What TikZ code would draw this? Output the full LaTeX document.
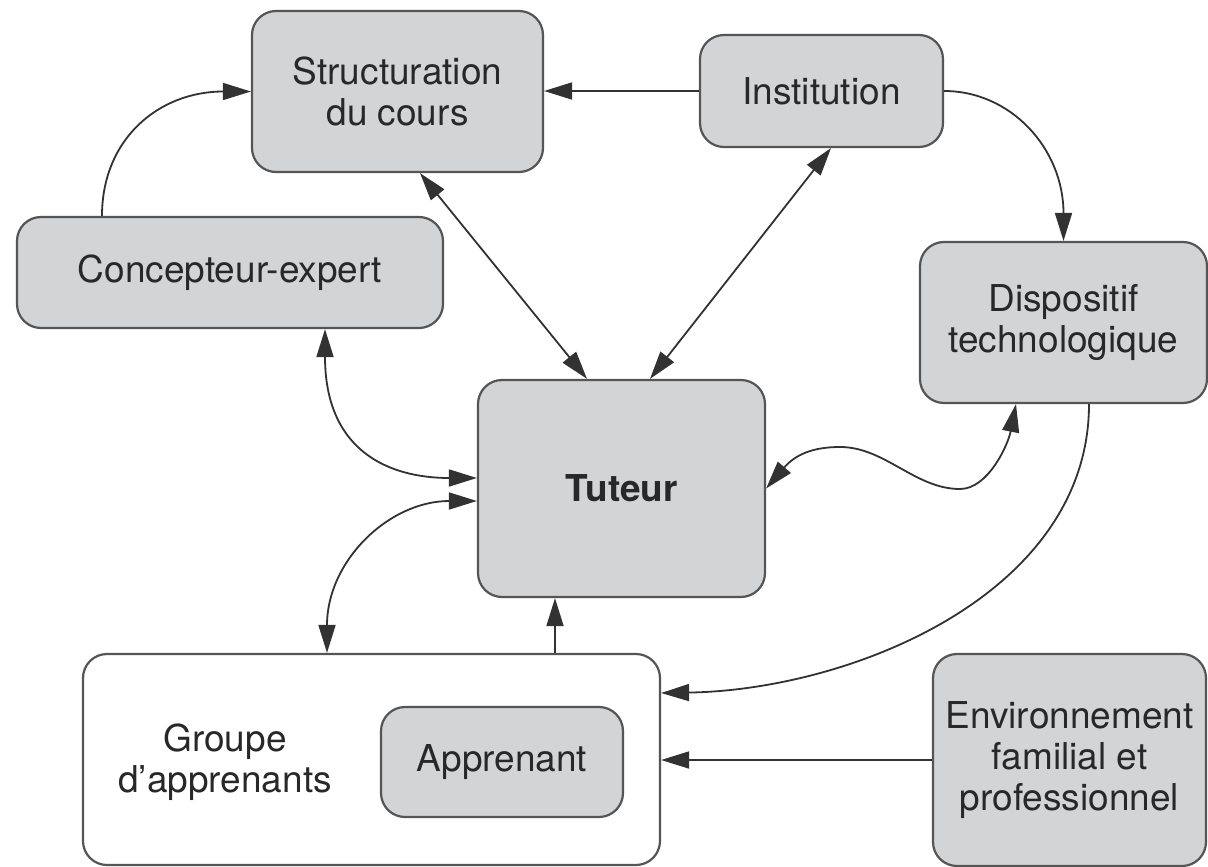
\documentclass[tikz,border=0pt]{standalone}
\usepackage{fontspec}
\setmainfont{TeX Gyre Heros}
\usetikzlibrary{arrows.meta,calc}
\definecolor{boxfill}{RGB}{211,212,214}
\definecolor{boxline}{RGB}{85,85,85}
\definecolor{txtc}{RGB}{40,40,40}
\definecolor{arrline}{RGB}{50,50,50}
\begin{document}
\begin{tikzpicture}[x=1pt,y=-1pt,
  box/.style={draw=boxline, line width=2.2pt, fill=boxfill, rounded corners=24pt,
    align=center, text=txtc, font=\fontsize{37}{41}\selectfont, inner sep=0pt},
  lbl/.style={align=center, text=txtc, font=\fontsize{37}{41}\selectfont, inner sep=0pt},
  arr/.style={draw=arrline, line width=1.8pt, -{Triangle[length=28pt,width=17pt]}},
  darr/.style={draw=arrline, line width=1.8pt, {Triangle[length=28pt,width=17pt]}-{Triangle[length=28pt,width=17pt]}}]
\fill[white] (0,0) rectangle (1208,867);
\useasboundingbox (0,0) rectangle (1208,867);

\node[box, minimum width=291pt, minimum height=161pt] (struct) at (397.5,91.5) {Structuration\\du cours};
\node[box, minimum width=243pt, minimum height=112pt] (inst) at (821.5,91) {Institution};
\node[box, minimum width=426pt, minimum height=111pt] (concept) at (230,272.5) {Concepteur-expert};
\node[box, minimum width=287pt, minimum height=161pt] (disp) at (1063.5,322.5) {Dispositif\\technologique};
\node[box, minimum width=287pt, minimum height=217pt, font=\fontsize{37}{41}\selectfont\bfseries] (tut) at (621.5,488.5) {Tuteur};
\node[box, fill=white, minimum width=577pt, minimum height=211pt] (groupe) at (371.5,759.5) {};
\node[lbl] (gtext) at (225,762) {Groupe\\d’apprenants};
\node[box, minimum width=242pt, minimum height=110pt] (appr) at (502,762) {Apprenant};
\node[box, minimum width=273pt, minimum height=212pt] (env) at (1069.5,760) {Environnement\\familial et\\professionnel};

% Institution -> Structuration
\draw[arr] (inst.west) -- (inst.west -| struct.east);
% Concepteur -> Structuration
\draw[arr] ([xshift=-128pt]concept.north) .. controls +(0,-77) and +(-92,0) .. (struct.west);
% Structuration <-> Tuteur
\draw[darr] ([xshift=22.5pt]struct.south) -- ([xshift=-34.5pt]tut.north);
% Institution <-> Tuteur
\draw[darr] ([xshift=9.5pt]inst.south) -- ([xshift=28.5pt]tut.north);
% Institution -> Dispositif
\draw[arr] (inst.east) .. controls +(67,0) and +(0,-92) .. (disp.north);
% Concepteur <-> Tuteur
\draw[darr] ([xshift=95pt]concept.south) .. controls +(0,122) and +(-88,0) .. ([yshift=10.5pt]tut.west);
% Groupe <-> Tuteur
\draw[darr] ([xshift=-44.5pt]groupe.north) .. controls +(0,-92) and +(-88,0) .. ([yshift=-12.5pt]tut.west);
% Groupe -> Tuteur
\coordinate (tutb) at ([xshift=-66.5pt]tut.south);
\draw[arr] (groupe.north -| tutb) -- (tutb);
% Tuteur <-> Dispositif (wavy)
\draw[darr] (tut.east) .. controls (795,455) and (812,447) .. (840,447)
  .. controls (885,447) and (915,489) .. (960,489)
  .. controls (988,489) and (1008,445) .. ([xshift=-47.5pt]disp.south);
% Dispositif -> Groupe
\draw[arr] ([xshift=25.5pt]disp.south) .. controls +(0,190) and +(190,-3) .. ([yshift=66.5pt]groupe.east);
% Environnement -> Groupe
\draw[arr] (env.west) -- (env.west -| groupe.east);
\end{tikzpicture}
\end{document}
